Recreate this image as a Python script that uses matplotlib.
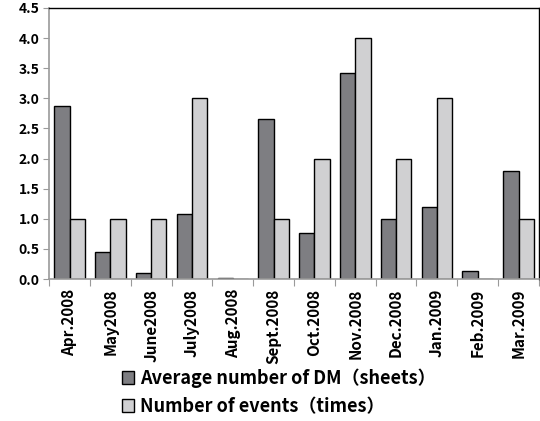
import numpy as np
import matplotlib.pyplot as plt

plt.rcParams['font.family'] = ['Noto Sans CJK JP', 'DejaVu Sans']

months = ['Apr.2008', 'May2008', 'June2008', 'July2008', 'Aug.2008', 'Sept.2008',
          'Oct.2008', 'Nov.2008', 'Dec.2008', 'Jan.2009', 'Feb.2009', 'Mar.2009']
avg_dm = [2.88, 0.45, 0.10, 1.08, 0.02, 2.65, 0.76, 3.42, 1.00, 1.20, 0.14, 1.80]
events = [1, 1, 1, 3, 0, 1, 2, 4, 2, 3, 0, 1]

fig = plt.figure(figsize=(5.4, 4.21), dpi=100)
ax = fig.add_axes([0.091, 0.337, 0.907, 0.644])

x = np.arange(len(months))
w = 0.375
ax.bar(x - w / 2, avg_dm, w, color='#7e7e82', edgecolor='black', linewidth=1.0,
       label='Average number of DM（sheets）')
ax.bar(x + w / 2, events, w, color='#d0d0d2', edgecolor='black', linewidth=1.0,
       label='Number of events（times）')

ax.set_xlim(-0.5, len(months) - 0.5)
ax.set_ylim(0, 4.5)
ax.set_yticks(np.arange(0, 4.51, 0.5))
ax.set_yticklabels([f'{v:.1f}' for v in np.arange(0, 4.51, 0.5)], fontsize=10, fontweight='bold')

# tick marks sit between month groups, labels at group centres
ax.set_xticks(np.arange(-0.5, len(months), 1.0))
ax.set_xticklabels([])
ax.set_xticks(x, minor=True)
ax.set_xticklabels(months, minor=True, rotation=90, fontsize=11, fontweight='bold')
ax.tick_params(axis='x', which='major', length=5, color='#9a9a9a', direction='out')
ax.tick_params(axis='x', which='minor', length=0, pad=7)
ax.tick_params(axis='y', length=4, color='#9a9a9a', direction='out', pad=3)

for side in ['left', 'bottom']:
    ax.spines[side].set_color('#9a9a9a')
    ax.spines[side].set_linewidth(1.2)
for side in ['top', 'right']:
    ax.spines[side].set_color('black')
    ax.spines[side].set_linewidth(1.0)

leg = fig.legend(loc='upper left', bbox_to_anchor=(0.212, 0.142), frameon=False,
                 prop={'size': 13, 'weight': 'bold'}, handlelength=0.68, handleheight=0.68,
                 handletextpad=0.35, labelspacing=0.5, borderaxespad=0)

fig.savefig('out.png', dpi=100)
